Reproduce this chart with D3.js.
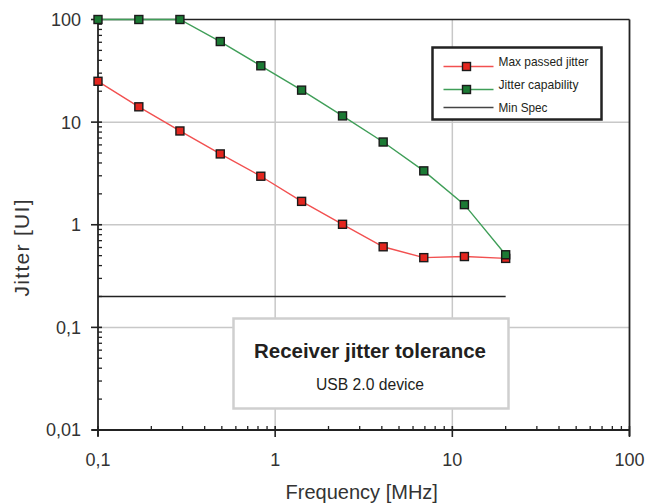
<!DOCTYPE html>
<html>
<head>
<meta charset="utf-8">
<script src="https://cdn.jsdelivr.net/npm/d3@7"></script>
<style>
  body { margin: 0; background: #fff; }
  svg { display: block; }
  .tick-lbl { font-family: "Liberation Sans", Arial, sans-serif; font-size: 18px; fill: #333; }
  .narrow { font-family: "Liberation Sans", Arial, sans-serif; fill: #231f20; }
</style>
</head>
<body>
<div id="chart"></div>
<script>
// frequency points (MHz)
var freq = [0.1, 0.17, 0.29, 0.49, 0.83, 1.41, 2.4, 4.07, 6.9, 11.7, 20];
// series values (UI)
var maxPassed = [25, 14.1, 8.2, 4.9, 2.97, 1.69, 1.01, 0.61, 0.478, 0.49, 0.47];
var capability = [100, 100, 100, 61, 35.4, 20.5, 11.5, 6.4, 3.35, 1.57, 0.51];
var minSpecF = [0.1, 20];
var minSpecV = [0.2, 0.2];
// tick labels
var xTicks = [0.1, 1, 10, 100];
var xTickLbl = ["0,1", "1", "10", "100"];
var yTicks = [0.01, 0.1, 1, 10, 100];
var yTickLbl = ["0,01", "0,1", "1", "10", "100"];
var legendNames = ["Max passed jitter", "Jitter capability", "Min Spec"];

var W = 652, H = 503;
var margin = {top: 19.5, right: 22.5, bottom: 73, left: 98},
    width = W - margin.left - margin.right,
    height = H - margin.top - margin.bottom;

var svg = d3.select("#chart").append("svg")
    .attr("width", W)
    .attr("height", H)
  .append("g")
    .attr("transform", "translate(" + margin.left + "," + margin.top + ")");

var x = d3.scaleLog().domain([0.1, 100]).range([0, width]);
var y = d3.scaleLog().domain([0.01, 100]).range([height, 0]);

// minor tick values 2..9 in each decade
function minors(lo, hi) {
  var out = [];
  for (var d = lo; d < hi; d *= 10)
    for (var k = 2; k <= 9; k++) out.push(d * k);
  return out;
}

// grid
svg.append("g").selectAll("line").data([1, 10])
  .enter().append("line")
    .attr("x1", function(d){ return x(d); }).attr("x2", function(d){ return x(d); })
    .attr("y1", 0).attr("y2", height)
    .style("stroke", "#c8c8c8").style("stroke-width", 1.5);
svg.append("g").selectAll("line").data([0.1, 1, 10])
  .enter().append("line")
    .attr("x1", 0).attr("x2", width)
    .attr("y1", function(d){ return y(d); }).attr("y2", function(d){ return y(d); })
    .style("stroke", "#c8c8c8").style("stroke-width", 1.5);

// frame (top and right)
svg.append("line").attr("x1", 0).attr("x2", width).attr("y1", 0).attr("y2", 0)
  .style("stroke", "#222").style("stroke-width", 1.5);
svg.append("line").attr("x1", width).attr("x2", width).attr("y1", 0).attr("y2", height + 6)
  .style("stroke", "#222").style("stroke-width", 1.8);

// y axis
var yAxis = svg.append("g");
yAxis.append("line").attr("x1", 0).attr("x2", 0).attr("y1", 0).attr("y2", height + 6)
  .style("stroke", "#222").style("stroke-width", 1.8);
yAxis.selectAll(".minor").data(minors(0.01, 100)).enter().append("line")
  .attr("x1", 0).attr("x2", 4)
  .attr("y1", function(d){ return y(d); }).attr("y2", function(d){ return y(d); })
  .style("stroke", "#222").style("stroke-width", 1.3);
yAxis.selectAll(".major").data(yTicks).enter().append("line")
  .attr("x1", -7).attr("x2", 4)
  .attr("y1", function(d){ return y(d); }).attr("y2", function(d){ return y(d); })
  .style("stroke", "#222").style("stroke-width", 1.6);
yAxis.selectAll("text").data(yTicks).enter().append("text")
  .attr("class", "tick-lbl")
  .attr("x", -17).attr("y", function(d){ return y(d); })
  .attr("dy", "0.36em").attr("text-anchor", "end")
  .text(function(d, i){ return yTickLbl[i]; });

// x axis
var xAxis = svg.append("g").attr("transform", "translate(0," + height + ")");
xAxis.append("line").attr("x1", -6).attr("x2", width).attr("y1", 0).attr("y2", 0)
  .style("stroke", "#222").style("stroke-width", 1.8);
xAxis.selectAll(".minor").data(minors(0.1, 100)).enter().append("line")
  .attr("x1", function(d){ return x(d); }).attr("x2", function(d){ return x(d); })
  .attr("y1", 0).attr("y2", -4)
  .style("stroke", "#222").style("stroke-width", 1.3);
xAxis.selectAll(".major").data(xTicks).enter().append("line")
  .attr("x1", function(d){ return x(d); }).attr("x2", function(d){ return x(d); })
  .attr("y1", -4).attr("y2", 7)
  .style("stroke", "#222").style("stroke-width", 1.6);
xAxis.selectAll("text").data(xTicks).enter().append("text")
  .attr("class", "tick-lbl")
  .attr("x", function(d){ return x(d); }).attr("y", 36)
  .attr("text-anchor", "middle")
  .text(function(d, i){ return xTickLbl[i]; });

// axis titles
svg.append("text").attr("class", "tick-lbl")
  .attr("x", width / 2 - 2).attr("y", height + 69)
  .attr("text-anchor", "middle").style("font-size", "20px")
  .text("Frequency [MHz]");
svg.append("text").attr("class", "tick-lbl")
  .attr("transform", "translate(" + (-69) + "," + 228.5 + ") rotate(-90)")
  .attr("text-anchor", "middle").style("font-size", "21px")
  .attr("textLength", 97).attr("lengthAdjust", "spacing")
  .text("Jitter [UI]");

// min spec line
var line = d3.line()
  .x(function(d){ return x(d[0]); })
  .y(function(d){ return y(d[1]); });

svg.append("path")
  .datum(d3.zip(minSpecF, minSpecV))
  .attr("d", line)
  .style("fill", "none").style("stroke", "#222").style("stroke-width", 1.6);

// annotation box
var ann = svg.append("g");
ann.append("rect")
  .attr("x", 233.5 - margin.left).attr("y", 318.5 - margin.top)
  .attr("width", 275).attr("height", 90)
  .style("fill", "#fff").style("stroke", "#cfcfcf").style("stroke-width", 2.5);
ann.append("text").attr("class", "narrow")
  .attr("x", 370 - margin.left).attr("y", 358 - margin.top)
  .attr("text-anchor", "middle")
  .attr("textLength", 232).attr("lengthAdjust", "spacingAndGlyphs")
  .style("font-size", "21px").style("font-weight", "bold")
  .text("Receiver jitter tolerance");
ann.append("text").attr("class", "narrow")
  .attr("x", 370 - margin.left).attr("y", 390 - margin.top)
  .attr("text-anchor", "middle")
  .attr("textLength", 108).attr("lengthAdjust", "spacingAndGlyphs")
  .style("font-size", "16px")
  .text("USB 2.0 device");

// series
var series = [
  {name: legendNames[0], vals: maxPassed, line: "#f25050", fill: "#e3261f"},
  {name: legendNames[1], vals: capability, line: "#3f9e58", fill: "#1b7a34"}
];
var ms = 8;
series.forEach(function(s) {
  var pts = d3.zip(freq, s.vals);
  svg.append("path").datum(pts).attr("d", line)
    .style("fill", "none").style("stroke", s.line).style("stroke-width", 1.4);
  svg.append("g").selectAll("rect").data(pts).enter().append("rect")
    .attr("x", function(d){ return x(d[0]) - ms / 2; })
    .attr("y", function(d){ return y(d[1]) - ms / 2; })
    .attr("width", ms).attr("height", ms)
    .style("fill", s.fill).style("stroke", "#1a1a1a").style("stroke-width", 1.4);
});

// legend
var lg = svg.append("g").attr("transform", "translate(" + (432.5 - margin.left) + "," + (47.5 - margin.top) + ")");
lg.append("rect").attr("width", 169).attr("height", 72)
  .style("fill", "#fff").style("stroke", "#222").style("stroke-width", 2.5);
var rowY = [19, 42, 60];
var txtY = [18.5, 41, 64];
var txtLen = [90, 80, 49];
var legItems = [
  {line: series[0].line, fill: series[0].fill, mark: true},
  {line: series[1].line, fill: series[1].fill, mark: true},
  {line: "#444", fill: null, mark: false}
];
legItems.forEach(function(it, i) {
  lg.append("line").attr("x1", 11).attr("x2", 61).attr("y1", rowY[i]).attr("y2", rowY[i])
    .style("stroke", it.line).style("stroke-width", 1.4);
  if (it.mark)
    lg.append("rect").attr("x", 34 - ms / 2).attr("y", rowY[i] - ms / 2)
      .attr("width", ms).attr("height", ms)
      .style("fill", it.fill).style("stroke", "#1a1a1a").style("stroke-width", 1.4);
  lg.append("text").attr("class", "narrow")
    .attr("x", 66).attr("y", txtY[i])
    .attr("textLength", txtLen[i]).attr("lengthAdjust", "spacingAndGlyphs")
    .style("font-size", "13px")
    .text(legendNames[i]);
});
</script>
</body>
</html>
